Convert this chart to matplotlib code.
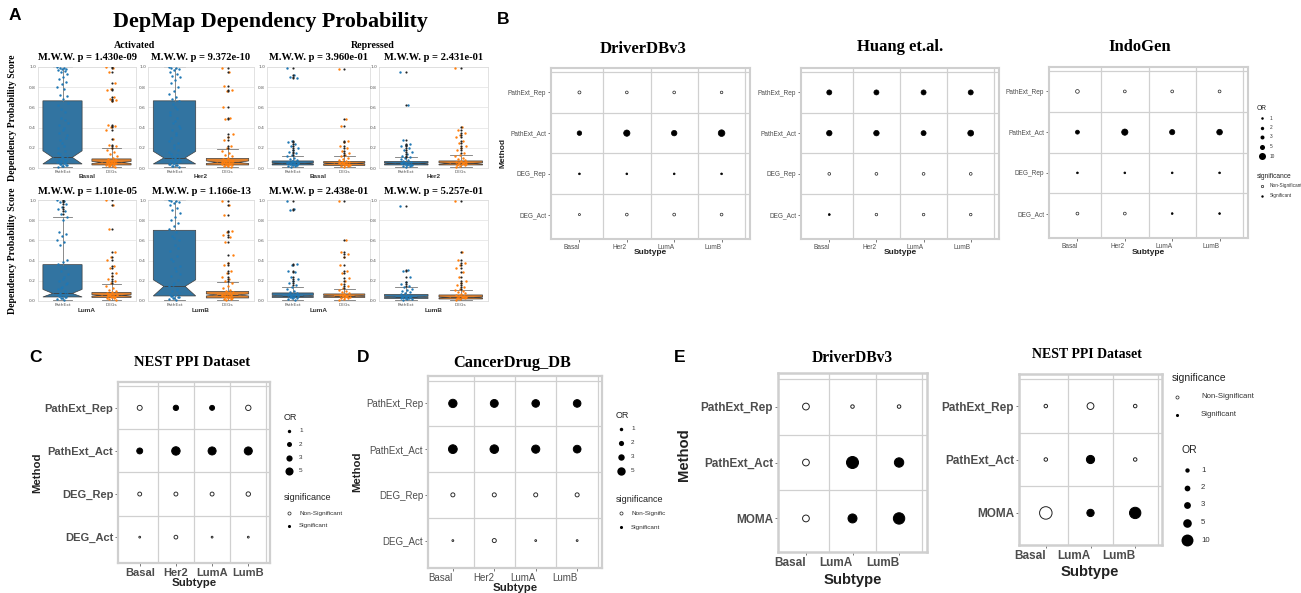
import numpy as np
import matplotlib
matplotlib.use("Agg")
import matplotlib.pyplot as plt

# ---------------- Panel A data (DepMap dependency probability) ----------------
subplot_subtypes = ["Basal", "Her2", "Basal", "Her2", "LumA", "LumB", "LumA", "LumB"]
pvalues = ["1.430e-09", "9.372e-10", "3.960e-01", "2.431e-01",
           "1.101e-05", "1.166e-13", "2.438e-01", "5.257e-01"]
group_names = ["PathExt", "DEGs"]

basal_act_path = [1.0, 0.99, 0.99, 0.98, 0.98, 0.97, 0.96, 0.95, 0.93, 0.9, 0.88, 0.85, 0.83, 0.8, 0.78,
                  0.72, 0.71, 0.68, 0.62, 0.55, 0.5, 0.45, 0.4, 0.35, 0.3, 0.25, 0.2, 0.17, 0.14, 0.12,
                  0.1, 0.09, 0.08, 0.07, 0.06, 0.05, 0.04, 0.03, 0.02, 0.01, 0.05, 0.04, 0.03, 0.02,
                  0.06, 0.08, 0.11, 0.15, 0.22, 0.28, 0.33, 0.38, 0.43, 0.48, 0.58, 0.64]
basal_act_deg = [1.0, 0.99, 0.95, 0.84, 0.78, 0.77, 0.7, 0.68, 0.67, 0.66, 0.43, 0.42, 0.41, 0.38, 0.29,
                 0.23, 0.22, 0.2, 0.18, 0.16, 0.14, 0.12, 0.1, 0.09, 0.08, 0.07, 0.07, 0.06, 0.06, 0.05,
                 0.05, 0.04, 0.04, 0.03, 0.03, 0.02, 0.02, 0.01, 0.05, 0.06, 0.04, 0.03, 0.08, 0.07]
her2_act_path = [1.0, 0.99, 0.99, 0.98, 0.97, 0.95, 0.93, 0.91, 0.9, 0.87, 0.84, 0.8, 0.76, 0.73, 0.7,
                 0.68, 0.66, 0.6, 0.55, 0.5, 0.45, 0.4, 0.35, 0.3, 0.25, 0.2, 0.16, 0.13, 0.11, 0.09,
                 0.08, 0.07, 0.06, 0.05, 0.04, 0.03, 0.02, 0.01, 0.05, 0.04, 0.03, 0.02, 0.07, 0.1,
                 0.14, 0.18, 0.23, 0.27, 0.33, 0.38, 0.42, 0.47, 0.52, 0.58, 0.63]
her2_act_deg = [0.99, 0.95, 0.81, 0.77, 0.76, 0.6, 0.5, 0.49, 0.34, 0.31, 0.28, 0.22, 0.2, 0.17, 0.15,
                0.13, 0.12, 0.1, 0.09, 0.08, 0.07, 0.07, 0.06, 0.06, 0.05, 0.05, 0.04, 0.04, 0.03, 0.03,
                0.02, 0.02, 0.01, 0.05, 0.06, 0.04, 0.08, 0.07, 0.03]
basal_rep_path = [0.99, 0.92, 0.9, 0.89, 0.27, 0.26, 0.24, 0.22, 0.2, 0.18, 0.16, 0.15, 0.13, 0.12, 0.1,
                  0.09, 0.08, 0.07, 0.06, 0.06, 0.05, 0.05, 0.04, 0.04, 0.03, 0.03, 0.02, 0.02, 0.01,
                  0.05, 0.04, 0.06, 0.03, 0.07, 0.05, 0.04]
basal_rep_deg = [0.98, 0.49, 0.42, 0.27, 0.26, 0.22, 0.2, 0.17, 0.15, 0.13, 0.12, 0.1, 0.09, 0.08, 0.07,
                 0.06, 0.06, 0.05, 0.05, 0.04, 0.04, 0.03, 0.03, 0.02, 0.02, 0.01, 0.05, 0.04, 0.06, 0.03]
her2_rep_path = [0.95, 0.62, 0.28, 0.24, 0.23, 0.22, 0.2, 0.18, 0.16, 0.14, 0.12, 0.11, 0.1, 0.09, 0.08,
                 0.07, 0.06, 0.05, 0.05, 0.04, 0.04, 0.03, 0.03, 0.02, 0.02, 0.01, 0.05, 0.04, 0.06, 0.03]
her2_rep_deg = [0.99, 0.41, 0.38, 0.35, 0.33, 0.31, 0.27, 0.25, 0.22, 0.2, 0.18, 0.15, 0.13, 0.12, 0.1,
                0.09, 0.08, 0.07, 0.06, 0.05, 0.05, 0.04, 0.04, 0.03, 0.03, 0.02, 0.01, 0.05, 0.04, 0.06]
lumA_act_path = [1.0, 0.99, 0.98, 0.96, 0.93, 0.91, 0.89, 0.86, 0.83, 0.8, 0.68, 0.66, 0.64, 0.6, 0.58,
                 0.55, 0.41, 0.39, 0.37, 0.33, 0.3, 0.27, 0.24, 0.2, 0.17, 0.14, 0.12, 0.1, 0.08, 0.07,
                 0.06, 0.05, 0.04, 0.03, 0.02, 0.01, 0.05, 0.04, 0.03, 0.06, 0.09, 0.13, 0.18, 0.22]
lumA_act_deg = [1.0, 0.95, 0.71, 0.49, 0.44, 0.41, 0.35, 0.33, 0.28, 0.25, 0.22, 0.2, 0.18, 0.15, 0.13,
                0.11, 0.1, 0.09, 0.08, 0.07, 0.06, 0.06, 0.05, 0.05, 0.04, 0.04, 0.03, 0.03, 0.02, 0.01,
                0.05, 0.06, 0.04, 0.07]
lumB_act_path = [1.0, 0.99, 0.99, 0.98, 0.97, 0.95, 0.92, 0.9, 0.87, 0.83, 0.8, 0.77, 0.74, 0.71, 0.68,
                 0.64, 0.6, 0.55, 0.5, 0.45, 0.4, 0.35, 0.3, 0.25, 0.21, 0.18, 0.15, 0.12, 0.1, 0.08,
                 0.06, 0.05, 0.04, 0.03, 0.02, 0.01, 0.05, 0.04, 0.03, 0.07, 0.11, 0.16, 0.27, 0.33,
                 0.42, 0.52, 0.62]
lumB_act_deg = [0.99, 0.95, 0.85, 0.69, 0.68, 0.65, 0.63, 0.58, 0.46, 0.38, 0.36, 0.3, 0.28, 0.24, 0.22,
                0.2, 0.18, 0.15, 0.13, 0.11, 0.1, 0.09, 0.08, 0.07, 0.06, 0.05, 0.05, 0.04, 0.04, 0.03,
                0.03, 0.02, 0.02, 0.01, 0.06, 0.07, 0.05]
lumA_rep_path = [0.99, 0.91, 0.9, 0.37, 0.36, 0.3, 0.29, 0.24, 0.22, 0.2, 0.18, 0.16, 0.14, 0.12, 0.1,
                 0.09, 0.08, 0.07, 0.06, 0.06, 0.05, 0.05, 0.04, 0.04, 0.03, 0.03, 0.02, 0.01, 0.05,
                 0.06, 0.04, 0.07]
lumA_rep_deg = [0.99, 0.6, 0.49, 0.47, 0.44, 0.36, 0.3, 0.28, 0.23, 0.2, 0.17, 0.15, 0.13, 0.11, 0.1,
                0.09, 0.08, 0.07, 0.06, 0.05, 0.05, 0.04, 0.04, 0.03, 0.03, 0.02, 0.01, 0.05, 0.06]
lumB_rep_path = [0.94, 0.31, 0.3, 0.24, 0.19, 0.17, 0.15, 0.14, 0.12, 0.11, 0.1, 0.09, 0.08, 0.07, 0.06,
                 0.05, 0.05, 0.04, 0.04, 0.03, 0.03, 0.02, 0.02, 0.01, 0.04, 0.05, 0.03]
lumB_rep_deg = [0.99, 0.49, 0.41, 0.38, 0.36, 0.33, 0.29, 0.24, 0.2, 0.18, 0.16, 0.14, 0.12, 0.11, 0.1,
                0.09, 0.08, 0.07, 0.06, 0.05, 0.05, 0.04, 0.04, 0.03, 0.03, 0.02, 0.01, 0.04, 0.03]

strip_values = [basal_act_path, basal_act_deg, her2_act_path, her2_act_deg,
                basal_rep_path, basal_rep_deg, her2_rep_path, her2_rep_deg,
                lumA_act_path, lumA_act_deg, lumB_act_path, lumB_act_deg,
                lumA_rep_path, lumA_rep_deg, lumB_rep_path, lumB_rep_deg]

# box statistics, same order as strip_values
box_q1 = [0.04, 0.03, 0.04, 0.03, 0.03, 0.025, 0.03, 0.03, 0.04, 0.035, 0.05, 0.03, 0.035, 0.035, 0.025, 0.02]
box_med = [0.105, 0.055, 0.10, 0.055, 0.045, 0.045, 0.045, 0.045, 0.075, 0.055, 0.145, 0.06, 0.05, 0.05, 0.04, 0.035]
box_q3 = [0.665, 0.09, 0.665, 0.095, 0.07, 0.065, 0.065, 0.07, 0.36, 0.085, 0.70, 0.095, 0.08, 0.07, 0.065, 0.06]
box_lo = [0.005] * 16
box_hi = [1.0, 0.195, 1.0, 0.185, 0.12, 0.12, 0.105, 0.13, 0.83, 0.165, 1.0, 0.19, 0.14, 0.12, 0.14, 0.11]
notch_lo = [0.04, 0.045, 0.04, 0.045, 0.04, 0.04, 0.04, 0.038, 0.04, 0.048, 0.05, 0.05, 0.045, 0.045, 0.035, 0.03]
notch_hi = [0.17, 0.065, 0.165, 0.07, 0.05, 0.05, 0.05, 0.052, 0.115, 0.062, 0.21, 0.07, 0.055, 0.055, 0.045, 0.04]

# ---------------- Dot-plot data ----------------
methods4 = ["PathExt_Rep", "PathExt_Act", "DEG_Rep", "DEG_Act"]
subtypes4 = ["Basal", "Her2", "LumA", "LumB"]
methods3 = ["PathExt_Rep", "PathExt_Act", "MOMA"]
subtypes3 = ["Basal", "LumA", "LumB"]

driver_or = [[1.5, 1.2, 1.2, 1.0], [4, 8, 6, 9], [0.3, 0.3, 0.3, 0.3], [0.5, 1.2, 1.3, 1.2]]
driver_sig = [[0, 0, 0, 0], [1, 1, 1, 1], [1, 1, 1, 1], [0, 0, 0, 0]]
huang_or = [[5, 5, 5, 5], [6, 6, 5, 7], [1.2, 1.2, 1.2, 1.2], [0.4, 1.0, 1.0, 1.0]]
huang_sig = [[1, 1, 1, 1], [1, 1, 1, 1], [0, 0, 0, 0], [1, 0, 0, 0]]
indo_or = [[2.5, 1.3, 1.3, 1.3], [3, 8, 5.5, 6.5], [0.3, 0.3, 0.3, 0.3], [1.3, 1.3, 0.3, 0.3]]
indo_sig = [[0, 0, 0, 0], [1, 1, 1, 1], [1, 1, 1, 1], [0, 0, 1, 1]]
nest_or = [[2, 2.3, 2, 2.3], [2.8, 5.5, 5, 5], [1.3, 1.3, 1.3, 1.6], [0.4, 1.2, 0.4, 0.4]]
nest_sig = [[0, 1, 1, 0], [1, 1, 1, 1], [0, 0, 0, 0], [0, 0, 0, 0]]
drug_or = [[5, 4.5, 4.2, 4.2], [5.5, 5.3, 4.8, 4.3], [1.3, 1.3, 1.3, 1.3], [0.4, 1.3, 0.4, 0.4]]
drug_sig = [[1, 1, 1, 1], [1, 1, 1, 1], [0, 0, 0, 0], [0, 0, 0, 0]]
e_driver_or = [[3, 0.6, 0.6], [3, 10, 6], [3, 5.5, 9]]
e_driver_sig = [[0, 0, 0], [0, 1, 1], [0, 1, 1]]
e_nest_or = [[0.5, 3, 0.5], [0.5, 4.5, 0.5], [11, 3.5, 9]]
e_nest_sig = [[0, 0, 0], [0, 1, 0], [0, 1, 1]]

or_breaks5 = [1, 2, 3, 5, 10]
or_breaks4 = [1, 2, 3, 5]
sig_labels = ["Non-Significant", "Significant"]

# ---------------- figure ----------------
W, H = 1301, 593
fig = plt.figure(figsize=(W / 100, H / 100), dpi=100)
SERIF = "Liberation Serif"
SANS = "Liberation Sans"


def ax_px(l, t, r, b, **kw):
    return fig.add_axes([l / W, 1 - b / H, (r - l) / W, (b - t) / H], **kw)


overlay = fig.add_axes([0, 0, 1, 1], zorder=20)
overlay.set_xlim(0, W)
overlay.set_ylim(H, 0)
overlay.axis("off")
overlay.patch.set_alpha(0)


def T(x, y, s, ha="center", va="center", **kw):
    overlay.text(x, y, s, ha=ha, va=va, **kw)


# ---------------- Panel A ----------------
A_x = [(38, 136), (148, 254), (267, 370), (379, 488)]
A_y = [(67, 168), (200, 301)]
face_cols = ["#3274a1", "#e1812c"]
pt_cols = ["#1f77b4", "#ff7f0e"]
edge = "#3f3f3f"

for k in range(8):
    r, c = divmod(k, 4)
    l, rr = A_x[c]
    t, b = A_y[r]
    ax = ax_px(l, t, rr, b)
    ax.set_facecolor("white")
    for s in ax.spines.values():
        s.set_color("#dddddd")
        s.set_linewidth(0.6)
    ax.set_yticks(np.arange(0, 1.01, 0.2))
    ax.yaxis.grid(True, color="#e6e6e6", lw=0.6)
    ax.set_axisbelow(True)
    stats = []
    for g in range(2):
        i = 2 * k + g
        stats.append(dict(q1=box_q1[i], med=box_med[i], q3=box_q3[i], whislo=box_lo[i],
                          whishi=box_hi[i], cilo=notch_lo[i], cihi=notch_hi[i], fliers=[]))
    bp = ax.bxp(stats, positions=[0, 1], widths=0.8, shownotches=True, patch_artist=True,
                showfliers=False,
                boxprops=dict(edgecolor=edge, linewidth=0.5),
                medianprops=dict(color=edge, linewidth=0.6),
                whiskerprops=dict(color="#777777", linewidth=0.6),
                capprops=dict(color="#777777", linewidth=0.6))
    for g, patch in enumerate(bp["boxes"]):
        patch.set_facecolor(face_cols[g])
    for g in range(2):
        i = 2 * k + g
        vals = np.array(strip_values[i])
        n = len(vals)
        jit = ((np.arange(n) * 0.618034) % 1.0 - 0.5) * 0.22
        ax.scatter(g + jit, vals, s=3.0, color=pt_cols[g], linewidths=0, zorder=3)
        fl = vals[vals > box_hi[i]]
        ax.scatter(np.full(len(fl), g), fl, s=2.4, color="#222222", linewidths=0, zorder=4)
    ax.set_xlim(-0.5, 1.5)
    ax.set_ylim(0, 1.0)
    ax.set_xticks([0, 1])
    ax.set_xticklabels(group_names)
    ax.tick_params(labelsize=3.2, length=0, pad=1.5, labelcolor="#555555")
    ax.set_yticklabels(["0.0", "0.2", "0.4", "0.6", "0.8", "1.0"])
    T((l + rr) / 2, t - 9, "M.W.W. p = " + pvalues[k], fontsize=7.6, fontweight="bold", family=SERIF)
    T((l + rr) / 2, b + 9, subplot_subtypes[k], fontsize=4.6, fontweight="bold", family=SANS, color="#333333")

T(270, 22, "DepMap Dependency Probability", fontsize=15.8, fontweight="bold", family=SERIF)
T(135, 45, "Activated", fontsize=7.2, fontweight="bold", family=SERIF)
T(373, 45, "Repressed", fontsize=7.2, fontweight="bold", family=SERIF)
for (t, b) in A_y:
    T(13, (t + b) / 2, "Dependency Probability Score", fontsize=7, fontweight="bold", family=SERIF, rotation=90)


# ---------------- dot plots ----------------
def size_px(v, omin, omax, dmin, dmax):
    a = dmin ** 2 + (dmax ** 2 - dmin ** 2) * (np.asarray(v, float) - omin) / (omax - omin)
    return np.sqrt(np.clip(a, 0.5, None))


def dotplot(box, ors, sig, rows, cols, scale, tick_fs, tick_bold, xha, lw=0.6, frame_lw=1.6):
    l, t, r, b = box
    ax = ax_px(l, t, r, b)
    nr, nc = len(rows), len(cols)
    ors = np.asarray(ors, float)
    sig = np.asarray(sig, bool)
    X, Y = np.meshgrid(np.arange(1, nc + 1), np.arange(nr, 0, -1))
    d = size_px(ors, *scale) * 0.72
    ax.scatter(X[sig], Y[sig], s=d[sig] ** 2, facecolors="black", edgecolors="black", linewidths=lw, zorder=3)
    ax.scatter(X[~sig], Y[~sig], s=d[~sig] ** 2, facecolors="white", edgecolors="#222222", linewidths=lw, zorder=3)
    ax.set_xlim(0.4, nc + 0.6)
    ax.set_ylim(0.4, nr + 0.6)
    for xv in np.arange(1.5, nc + 1):
        ax.axvline(xv, color="#d0d0d0", lw=0.9, zorder=1)
    for yv in np.arange(1.5, nr + 1):
        ax.axhline(yv, color="#d0d0d0", lw=0.9, zorder=1)
    for s in ax.spines.values():
        s.set_color("#cfcfcf")
        s.set_linewidth(frame_lw)
    ax.set_xticks(np.arange(1, nc + 1))
    ax.set_xticklabels(cols, ha=xha)
    ax.set_yticks(np.arange(nr, 0, -1))
    ax.set_yticklabels(rows)
    ax.tick_params(length=2, width=0.5, color="#444444", pad=1.5, labelsize=tick_fs, labelcolor="#4d4d4d")
    if tick_bold:
        for lab in ax.get_xticklabels() + ax.get_yticklabels():
            lab.set_fontweight("bold")
    for lab in ax.get_xticklabels() + ax.get_yticklabels():
        lab.set_family(SANS)
    return ax


def or_legend(x, y0, dy, breaks, scale, title_fs, lab_fs, title_y, lab_dx=9):
    T(x - 5, title_y, "OR", ha="left", fontsize=title_fs, family=SANS, color="#222222")
    d = size_px(breaks, *scale) * 0.72
    for j, bv in enumerate(breaks):
        overlay.scatter([x], [y0 + j * dy], s=d[j] ** 2, color="black", linewidths=0)
        T(x + lab_dx, y0 + j * dy, str(bv), ha="left", fontsize=lab_fs, family=SANS, color="#333333")


def sig_legend(x, title_y, y0, dy, labels, title_fs, lab_fs, ms, lab_dx=9):
    T(x - 5, title_y, "significance", ha="left", fontsize=title_fs, family=SANS, color="#222222")
    overlay.scatter([x], [y0], s=ms, facecolors="white", edgecolors="#222222", linewidths=0.5)
    overlay.scatter([x], [y0 + dy], s=ms, color="black", linewidths=0)
    T(x + lab_dx, y0, labels[0], ha="left", fontsize=lab_fs, family=SANS, color="#333333")
    T(x + lab_dx, y0 + dy, labels[1], ha="left", fontsize=lab_fs, family=SANS, color="#333333")


# Panel B
scaleB = (0.3, 10, 1.8, 7.0)
dotplot((551, 68, 750, 239), driver_or, driver_sig, methods4, subtypes4, scaleB, 4.7, False, "right", lw=0.5, frame_lw=1.5)
dotplot((801, 68, 999, 239), huang_or, huang_sig, methods4, subtypes4, scaleB, 4.7, False, "right", lw=0.5, frame_lw=1.5)
dotplot((1049, 67, 1248, 238), indo_or, indo_sig, methods4, subtypes4, scaleB, 4.7, False, "right", lw=0.5, frame_lw=1.5)
T(643, 49, "DriverDBv3", fontsize=12, fontweight="bold", family=SERIF)
T(900, 47, "Huang et.al.", fontsize=12, fontweight="bold", family=SERIF)
T(1140, 47, "IndoGen", fontsize=12, fontweight="bold", family=SERIF)
for cx in (650, 900, 1148):
    T(cx, 253, "Subtype", fontsize=6, fontweight="bold", family=SANS, color="#222222")
T(503, 153, "Method", fontsize=6, fontweight="bold", family=SANS, rotation=90, color="#222222")
or_legend(1262, 118, 9.5, or_breaks5, scaleB, 4.8, 3.4, 108, lab_dx=8)
sig_legend(1262, 176, 186, 9.5, sig_labels, 4.8, 3.4, 3.0, lab_dx=8)

# Panel C
scaleC = (0.4, 5.5, 1.8, 8.5)
dotplot((118, 382, 270, 563), nest_or, nest_sig, methods4, subtypes4, scaleC, 8, True, "center", lw=0.65, frame_lw=1.6)
T(192, 363, "NEST PPI Dataset", fontsize=10.5, fontweight="bold", family=SERIF)
T(194, 583, "Subtype", fontsize=8.2, fontweight="bold", family=SANS, color="#222222")
T(37, 473, "Method", fontsize=8.2, fontweight="bold", family=SANS, rotation=90, color="#222222")
or_legend(289, 431, 13.3, or_breaks4, scaleC, 6.5, 4.6, 417, lab_dx=10)
sig_legend(289, 497, 513, 12.5, sig_labels, 6.5, 4.6, 5, lab_dx=10)

# Panel D
scaleD = (0.4, 5.5, 1.8, 8.8)
dotplot((428, 376, 602, 568), drug_or, drug_sig, methods4, subtypes4, scaleD, 7, False, "right", lw=0.65, frame_lw=1.6)
T(512, 363, "CancerDrug_DB", fontsize=11.8, fontweight="bold", family=SERIF)
T(515, 588, "Subtype", fontsize=8.2, fontweight="bold", family=SANS, color="#222222")
T(357, 472, "Method", fontsize=8.2, fontweight="bold", family=SANS, rotation=90, color="#222222")
or_legend(621, 429, 14, or_breaks4, scaleD, 6.5, 4.6, 415, lab_dx=10)
sig_legend(621, 499, 513, 14, ["Non-Signific", "Significant"], 6.5, 4.6, 5, lab_dx=10)

# Panel E
scaleE1 = (0.6, 10, 3.5, 12.0)
scaleE2 = (0.5, 11, 3.5, 12.5)
dotplot((778, 373, 927, 552), e_driver_or, e_driver_sig, methods3, subtypes3, scaleE1, 8.5, True, "right", lw=0.7, frame_lw=1.8)
dotplot((1019, 374, 1162, 545), e_nest_or, e_nest_sig, methods3, subtypes3, scaleE2, 8.5, True, "right", lw=0.7, frame_lw=1.8)
T(852, 358, "DriverDBv3", fontsize=11.2, fontweight="bold", family=SERIF)
T(1087, 355, "NEST PPI Dataset", fontsize=10, fontweight="bold", family=SERIF)
T(853, 580, "Subtype", fontsize=10.7, fontweight="bold", family=SANS, color="#222222")
T(1090, 572, "Subtype", fontsize=10.7, fontweight="bold", family=SANS, color="#222222")
T(684, 455, "Method", fontsize=10.7, fontweight="bold", family=SANS, rotation=90, color="#222222")
sig_legend(1177, 378, 397, 18, sig_labels, 7.5, 5.6, 5, lab_dx=24)
or_legend(1187, 470, 17.5, or_breaks5, scaleE2, 7.5, 5.6, 450, lab_dx=14)

# panel letters
for (x, y, s) in [(15, 15, "A"), (503, 20, "B"), (35, 357, "C"), (363, 357, "D"), (680, 358, "E")]:
    T(x, y, s, fontsize=12.5, fontweight="bold", family=SANS)

fig.savefig("out.png", dpi=100)
